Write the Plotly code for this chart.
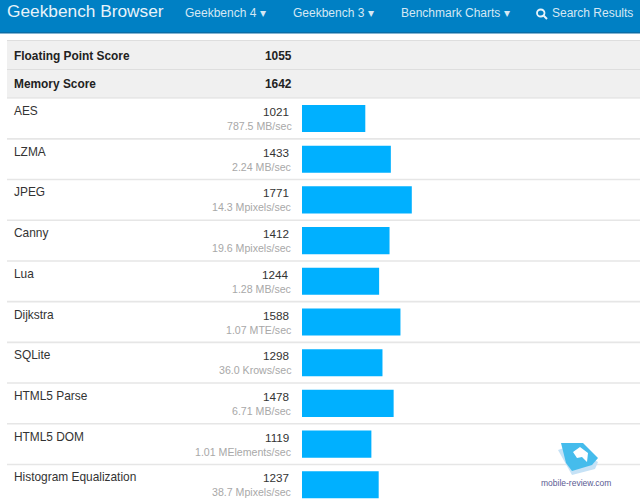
import plotly.graph_objects as go

W, H = 640, 502
benchmarks = ["AES", "LZMA", "JPEG", "Canny", "Lua", "Dijkstra", "SQLite", "HTML5 Parse", "HTML5 DOM", "Histogram Equalization"]
scores = [1021, 1433, 1771, 1412, 1244, 1588, 1298, 1478, 1119, 1237]
rates = ["787.5 MB/sec", "2.24 MB/sec", "14.3 Mpixels/sec", "19.6 Mpixels/sec", "1.28 MB/sec",
         "1.07 MTE/sec", "36.0 Krows/sec", "6.71 MB/sec", "1.01 MElements/sec", "38.7 Mpixels/sec"]
summary_names = ["Floating Point Score", "Memory Score"]
summary_scores = [1055, 1642]
nav_items = ["Geekbench 4 ▾", "Geekbench 3 ▾", "Benchmark Charts ▾"]

FONT = "Liberation Sans"
PXU = 0.062       # pixels per score unit
X0 = 302          # pixel of score zero
ROW0, ROWH = 118.5, 40.7

fig = go.Figure(go.Bar(
    y=list(range(len(scores))), x=scores, orientation="h",
    width=0.665, marker=dict(color="#00B0FF", line_width=0), hoverinfo="skip"))

fig.update_layout(
    width=W, height=H, margin=dict(l=0, r=0, t=0, b=0), autosize=False,
    paper_bgcolor="white", plot_bgcolor="rgba(0,0,0,0)", showlegend=False,
    xaxis=dict(range=[-X0 / PXU, (W - X0) / PXU], visible=False, fixedrange=True),
    yaxis=dict(range=[(H - ROW0) / ROWH, -ROW0 / ROWH], visible=False, fixedrange=True),
    font=dict(family=FONT),
)

def fx(px): return px / W
def fy(py): return 1 - py / H

def rect(x0, y0, x1, y1, color):
    fig.add_shape(type="rect", xref="paper", yref="paper", x0=fx(x0), x1=fx(x1), y0=fy(y0), y1=fy(y1),
                  fillcolor=color, line_width=0, layer="below")

def text(x, y, s, size=13, color="#333333", anchor="left", bold=False):
    fig.add_annotation(xref="paper", yref="paper", x=fx(x), y=fy(y), text=f"<b>{s}</b>" if bold else str(s),
                       showarrow=False, xanchor=anchor, yanchor="middle",
                       font=dict(size=size, color=color, family=FONT), borderpad=0, borderwidth=0)

# navigation bar
rect(0, 0, W, 32, "#0080C4")
rect(0, 32, W, 33.5, "#0A6DA6")
text(7, 11.5, "Geekbench Browser", size=17.3, color="#E8F3FA")
for x, label in zip([185, 293, 401], nav_items):
    text(x, 13, label, size=12, color="#D5E8F4")
fig.add_shape(type="circle", xref="paper", yref="paper", x0=fx(537), x1=fx(544.5), y0=fy(9.5), y1=fy(16.5),
              line=dict(color="#E8F3FA", width=1.8))
fig.add_shape(type="line", xref="paper", yref="paper", x0=fx(543.5), x1=fx(547), y0=fy(15.5), y1=fy(19),
              line=dict(color="#E8F3FA", width=2))
text(552, 13, "Search Results", size=12, color="#D5E8F4")

# summary rows
rect(7, 41, W, 98, "#F0F0F0")
for py in [40.5, 69.5, 98]:
    rect(7, py - 0.6, W, py + 0.6, "#DEDEDE")
for i, (n, s) in enumerate(zip(summary_names, summary_scores)):
    py = 55.5 + 29 * i
    text(14, py, n, size=11.9, color="#222222", bold=True)
    text(292, py, s, size=11.9, color="#222222", anchor="right", bold=True)

# benchmark rows
for i, (n, s, r) in enumerate(zip(benchmarks, scores, rates)):
    py = ROW0 + ROWH * i
    text(14, py - 7.5, n, size=11.9, color="#333333")
    text(288.5, py - 7, s, size=11.7, color="#333333", anchor="right")
    text(292, py + 7.5, r, size=10.6, color="#A8A8A8", anchor="right")
    if i < len(scores) - 1:
        sep = py + ROWH / 2
        rect(7, sep - 0.8, W, sep + 0.8, "#E6E6E6")

# watermark
def poly(points, color):
    d = "M " + " L ".join(f"{fx(x)},{fy(y)}" for x, y in points) + " Z"
    fig.add_shape(type="path", xref="paper", yref="paper", path=d, fillcolor=color, line_width=0)

poly([(558, 450), (572, 475), (595, 469), (598, 462), (570, 446)], "#C6E2F6")
poly([(561, 443), (583, 443), (598, 458), (592, 465), (572, 471), (566, 463)], "#45BCEC")
poly([(573, 452), (580, 447), (588, 453), (587, 462), (582, 457), (577, 458)], "#FFFFFF")
text(576, 482.5, "mobile-review.com", size=8.5, color="#5B5B93", anchor="center")

fig.write_html("out.html", config=dict(displayModeBar=False),
               post_script="document.body.style.margin='0';document.documentElement.style.overflow='hidden';")
